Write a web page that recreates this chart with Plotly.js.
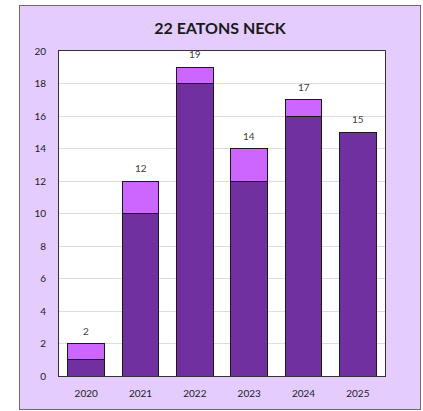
<!DOCTYPE html>
<html><head><meta charset="utf-8">
<script src="https://cdn.plot.ly/plotly-3.0.1.min.js"></script>
<style>
html,body{margin:0;padding:0;background:#fff;}
#frame{position:absolute;left:19px;top:5px;width:400px;height:403px;background:#E4CCFF;border:1px solid #6b6b6b;}
#chart{width:400px;height:403px;}
</style></head><body>
<div id="frame"><div id="chart"></div></div>
<script>
const years = ['2020','2021','2022','2023','2024','2025'];
const baseValues = [1, 10, 18, 12, 16, 15];
const topValues = [1, 2, 1, 2, 1, 0];
const totals = baseValues.map((v, i) => v + topValues[i]);
const yTicks = [0,2,4,6,8,10,12,14,16,18,20];

const traces = [
  {type:'bar', x:years, y:baseValues, marker:{color:'#7030A0', line:{color:'#1a1a1a', width:1}}, hoverinfo:'y'},
  {type:'bar', x:years, y:topValues, marker:{color:'#CC66FF', line:{color:'#1a1a1a', width:1}}, hoverinfo:'y'}
];
const annotations = years.map((yr, i) => ({
  x: i, y: totals[i], xref:'x', yref:'y', text: String(totals[i]), showarrow:false, yshift:13,
  font:{family:'Lato, "Open Sans", sans-serif', size:10, color:'#404040'}
}));
const layout = {
  width:400, height:403,
  barmode:'stack', bargap:0.32, showlegend:false,
  paper_bgcolor:'rgba(0,0,0,0)', plot_bgcolor:'#ffffff',
  margin:{l:39, r:35, t:45, b:33},
  title:{text:'<b>22 EATONS NECK</b>', x:0.5, xanchor:'center', y:0.945, yanchor:'middle',
         font:{family:'Lato, "Open Sans", sans-serif', size:16, color:'#1a1a1a'}},
  xaxis:{type:'category', range:[-0.5, years.length - 0.5], showline:true, mirror:true, linecolor:'#333', linewidth:1, ticks:'', showgrid:false,
         ticklabelstandoff:8,
         tickfont:{family:'Lato, "Open Sans", sans-serif', size:10, color:'#222'}},
  yaxis:{range:[0,20], tickvals:yTicks, showline:true, mirror:true, linecolor:'#333', linewidth:1,
         gridcolor:'#dcdcdc', gridwidth:1, zeroline:false, ticks:'', ticklabelstandoff:10,
         tickfont:{family:'Lato, "Open Sans", sans-serif', size:10, color:'#222'}},
  annotations: annotations
};
Plotly.newPlot('chart', traces, layout, {displayModeBar:false, staticPlot:true});
</script></body></html>
